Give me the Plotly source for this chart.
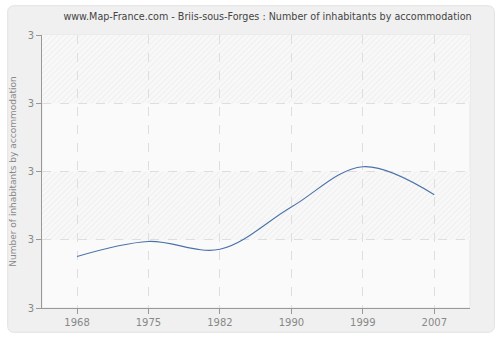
import base64
import plotly.graph_objects as go

years = ["1968", "1975", "1982", "1990", "1999", "2007"]
values = [2.751, 2.795, 2.772, 2.896, 3.014, 2.932]
y_ticks = [2.6, 2.8, 3.0, 3.2, 3.4]
y_tick_labels = ["3", "3", "3", "3", "3"]

W, H = 500, 340
L, R, T, B = 40, 30, 35, 30
pw, ph = W - L - R, H - T - B

# decorative background: rounded panel + plot area with hatched bands
band_h = ph / 4
svg = f'''<svg xmlns="http://www.w3.org/2000/svg" width="{W}" height="{H}">
<defs><pattern id="p" width="4" height="4" patternUnits="userSpaceOnUse" patternTransform="rotate(45)">
<rect width="4" height="4" fill="#f8f8f8"/><line x1="0" y1="0" x2="0" y2="4" stroke="#ececec" stroke-width="1.5"/></pattern></defs>
<rect x="0" y="0" width="{W}" height="{H}" fill="#ffffff"/>
<rect x="5.5" y="5.5" width="489" height="329" rx="6" ry="6" fill="#f0f0f0" stroke="#e2e2e2" stroke-width="1"/>
<rect x="{L}" y="{T}" width="{pw}" height="{ph}" fill="#fafafa" stroke="#e6e6e6" stroke-width="1"/>
<rect x="{L}" y="{T}" width="{pw}" height="{band_h}" fill="url(#p)"/>
<rect x="{L}" y="{T + 2*band_h}" width="{pw}" height="{band_h}" fill="url(#p)"/>
</svg>'''
src = "data:image/svg+xml;base64," + base64.b64encode(svg.encode()).decode()

fig = go.Figure()
fig.add_trace(go.Scatter(
    x=years, y=values, mode="lines",
    line=dict(color="#4a72a8", width=1.1, shape="spline", smoothing=1.0),
    hoverinfo="x+y", showlegend=False,
))

fig.update_layout(
    width=W, height=H,
    margin=dict(l=L, r=R, t=T, b=B),
    paper_bgcolor="white",
    plot_bgcolor="rgba(0,0,0,0)",
    font=dict(family="DejaVu Sans", size=10, color="#888888"),
    title=dict(
        text="www.Map-France.com - Briis-sous-Forges : Number of inhabitants by accommodation",
        x=0.535, xanchor="center", y=0.95, yanchor="middle",
        font=dict(family="DejaVu Sans", size=9.6, color="#444444"),
    ),
    images=[dict(source=src, xref="paper", yref="paper",
                 x=-L / pw, y=1 + T / ph, sizex=W / pw, sizey=H / ph,
                 sizing="stretch", layer="below", xanchor="left", yanchor="top")],
    xaxis=dict(
        type="category", range=[-0.49, 5.5],
        showgrid=True, gridcolor="#dedede", griddash="dash", gridwidth=1,
        showline=True, linecolor="#999999", linewidth=1,
        ticks="outside", ticklen=5, tickcolor="#999999",
        tickfont=dict(size=10, color="#888888"), zeroline=False,
    ),
    yaxis=dict(
        range=[2.6, 3.4], tickvals=y_ticks, ticktext=y_tick_labels,
        showgrid=True, gridcolor="#dedede", griddash="dash", gridwidth=1,
        showline=True, linecolor="#999999", linewidth=1,
        ticks="outside", ticklen=5, tickcolor="#999999",
        tickfont=dict(size=10, color="#888888"), zeroline=False,
        title=dict(text="Number of inhabitants by accommodation", standoff=9,
                   font=dict(size=9, color="#888888")),
    ),
)

fig.write_html("out.html")
